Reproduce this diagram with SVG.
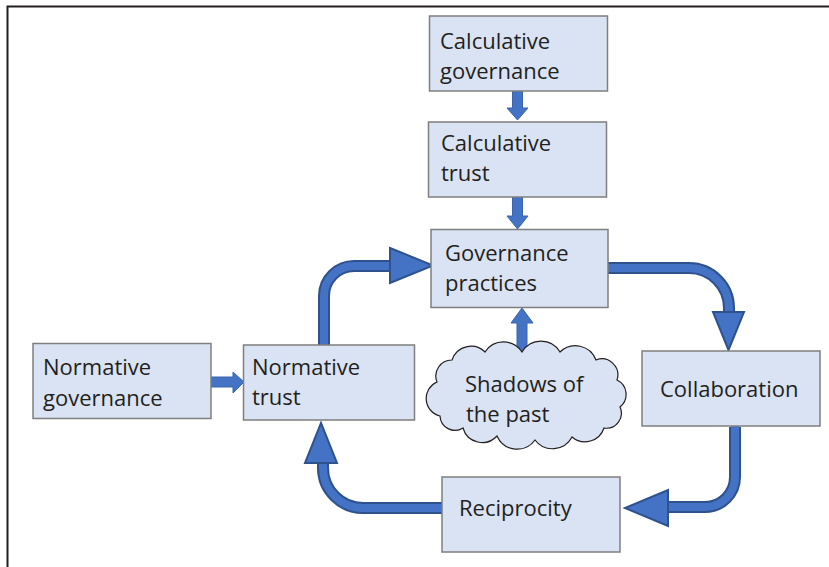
<svg xmlns="http://www.w3.org/2000/svg" width="829" height="567" viewBox="0 0 829 567">
<style>
.box{fill:#dae3f3;stroke:#7f7f7f;stroke-width:1.5}
.lbl{font-family:"Open Sans","Liberation Sans",sans-serif;font-size:22px;fill:#231f20}
.shaftOut{fill:none;stroke:#2f528f;stroke-width:12}
.shaftIn{fill:none;stroke:#4472c4;stroke-width:8}
.head{fill:#4472c4;stroke:#2f528f;stroke-width:2;stroke-linejoin:miter}
.small{fill:#4472c4;stroke:#3a64ae;stroke-width:1}
</style>
<rect width="829" height="567" fill="#ffffff"/>
<path d="M7.5,567 V6.5 H829" fill="none" stroke="#231f20" stroke-width="2"/>

<g id="connectors">
  <!-- calc gov -> calc trust -->
  <polygon class="small" points="512.5,91 522.5,91 522.5,108 528,108 517.5,120 507,108 512.5,108"/>
  <!-- calc trust -> governance practices -->
  <polygon class="small" points="512.5,197 522.5,197 522.5,216 528,216 517.5,229 507,216 512.5,216"/>
  <!-- shadows -> governance practices -->
  <polygon class="small" points="517,354 527,354 527,323 533,323 522,308 511,323 517,323"/>
  <!-- normative gov -> normative trust -->
  <polygon class="small" points="211,377 233,377 233,372 244,382 233,393 233,387 211,387"/>
  <!-- normative trust -> governance practices -->
  <path class="shaftOut" d="M324,345 V296 A30,30 0 0 1 354,266 H392"/>
  <path class="shaftIn" d="M324,346 V296 A30,30 0 0 1 354,266 H393"/>
  <polygon class="head" points="390,248 433,265.5 390,283"/>
  <!-- governance practices -> collaboration -->
  <path class="shaftOut" d="M608,268 H689 A40,40 0 0 1 729,308 V314"/>
  <path class="shaftIn" d="M607,268 H689 A40,40 0 0 1 729,308 V315"/>
  <polygon class="head" points="713,312 744,312 728.5,350"/>
  <!-- collaboration -> reciprocity -->
  <path class="shaftOut" d="M735,427 V477 A30,30 0 0 1 705,507 H666"/>
  <path class="shaftIn" d="M735,426 V477 A30,30 0 0 1 705,507 H665"/>
  <polygon class="head" points="668,490 668,526 625,508"/>
  <!-- reciprocity -> normative trust -->
  <path class="shaftOut" d="M442,508 H363 A40,40 0 0 1 323,468 V461"/>
  <path class="shaftIn" d="M443,508 H363 A40,40 0 0 1 323,468 V460"/>
  <polygon class="head" points="305,463 337,463 321,423"/>
</g>

<g id="calc-governance">
  <rect class="box" x="429.5" y="16" width="178" height="75"/>
  <text class="lbl" x="440" y="49">Calculative</text>
  <text class="lbl" x="440" y="79">governance</text>
</g>
<g id="calc-trust">
  <rect class="box" x="428.5" y="122" width="178" height="75"/>
  <text class="lbl" x="441" y="151">Calculative</text>
  <text class="lbl" x="441" y="181">trust</text>
</g>
<g id="governance-practices">
  <rect class="box" x="431" y="229.5" width="177" height="78"/>
  <text class="lbl" x="445" y="261">Governance</text>
  <text class="lbl" x="445" y="291">practices</text>
</g>
<g id="normative-governance">
  <rect class="box" x="33" y="343.5" width="178" height="75"/>
  <text class="lbl" x="43" y="375">Normative</text>
  <text class="lbl" x="43" y="406">governance</text>
</g>
<g id="normative-trust">
  <rect class="box" x="243.5" y="345" width="171" height="75"/>
  <text class="lbl" x="252" y="375">Normative</text>
  <text class="lbl" x="252" y="405">trust</text>
</g>
<g id="shadows">
  <path d="M437,382 A16,16 0 0 1 452,360 A20,20 0 0 1 485,352 A22,22 0 0 1 522,352 A22,22 0 0 1 560,352 A22,22 0 0 1 596,360 A16,16 0 0 1 617,380 A16,16 0 0 1 620,407 A15,15 0 0 1 604,428 A20,20 0 0 1 572,437 A22,22 0 0 1 535,440 A22,22 0 0 1 497,436 A20,20 0 0 1 463,428 A15,15 0 0 1 440,416 A18,18 0 0 1 437,382 Z" fill="#dae3f3" stroke="#231f20" stroke-width="1.2"/>
  <text class="lbl" x="465" y="392">Shadows of</text>
  <text class="lbl" x="466" y="422">the past</text>
</g>
<g id="collaboration">
  <rect class="box" x="642" y="351" width="178" height="75"/>
  <text class="lbl" x="660" y="397">Collaboration</text>
</g>
<g id="reciprocity">
  <rect class="box" x="442" y="477" width="178" height="75"/>
  <text class="lbl" x="459" y="516">Reciprocity</text>
</g>
</svg>
